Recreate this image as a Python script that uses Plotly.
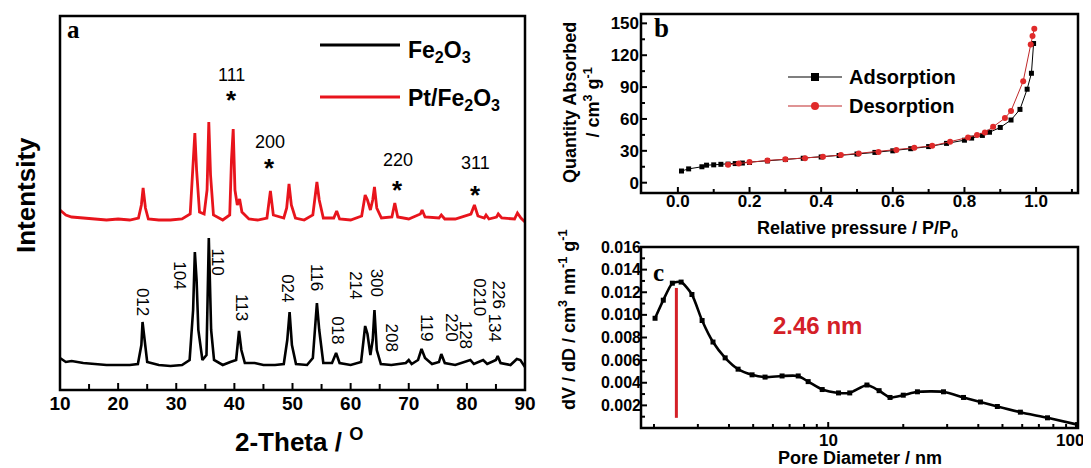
import math
import plotly.graph_objects as go

W, H = 1083, 460   # fits the 1091x468 window after the 8 px page margin
OX, OY = 8, 8      # page body margin offset of the plot div


def px(x):
    return (x - OX) / W


def py(y):
    return 1 - (y - OY) / H


# ---------------- Panel a : XRD ----------------
tt_fe2o3 = [10, 11, 12, 14, 16, 18, 20, 22, 23.4, 24.0, 24.2, 24.6, 25.0, 27, 29, 31,
            32.3, 32.9, 33.2, 33.5, 33.8, 34.5, 35.2, 35.6, 36.0, 36.5, 38, 39.3, 40.3,
            40.8, 41.2, 41.8, 43.5, 45, 47, 48.5, 49.1, 49.5, 49.9, 50.6, 52.5, 53.5,
            54.0, 54.2, 54.6, 55.3, 56.8, 57.5, 58.1, 60, 61.8, 62.5, 62.9, 63.4, 63.8,
            64.1, 64.5, 65.2, 67, 69.5, 70, 70.5, 71.6, 72.2, 72.8, 74, 75.2, 75.6,
            76.2, 78, 80.6, 81.2, 82.8, 83.5, 85.0, 85.3, 85.8, 87.5, 88.6, 89.2, 90]
int_fe2o3 = [32, 28, 29, 27, 26, 25, 25, 25, 26, 45, 68, 50, 28, 25, 24, 25,
             30, 80, 138, 110, 60, 30, 35, 152, 60, 30, 25, 28, 30,
             59, 40, 27, 27, 25, 25, 26, 50, 78, 45, 26, 25, 32,
             75, 87, 60, 27, 27, 37, 27, 25, 28, 64, 56, 35, 50,
             80, 40, 26, 25, 27, 30, 26, 30, 41, 32, 26, 28, 36,
             27, 25, 30, 26, 30, 26, 30, 34, 27, 25, 31, 30, 23]

tt_pt = [10, 11, 12, 14, 16, 18, 20, 22, 23.5, 24.0, 24.3, 24.7, 25.2, 27, 29, 31,
         32.4, 32.9, 33.2, 33.5, 34, 34.8, 35.3, 35.6, 35.9, 36.4, 38, 39.2, 39.5,
         39.8, 40.1, 40.5, 40.9, 41.3, 42.5, 44, 45.6, 46.2, 46.7, 48.5, 49.0, 49.4,
         49.8, 50.5, 52, 53.5, 54.0, 54.2, 54.6, 55.3, 57.1, 57.6, 58.1, 60, 61.9,
         62.5, 62.9, 63.4, 63.8, 64.1, 64.5, 65.3, 67.1, 67.6, 68.1, 70, 72.0, 72.3,
         72.8, 75.2, 75.6, 76.2, 78, 80.7, 81.3, 81.9, 83, 83.3, 83.8, 85.1, 85.4,
         86, 88.2, 88.7, 89.3, 90]
int_pt = [180, 175, 173, 172, 171, 170, 171, 170, 172, 185, 202, 182, 171, 170, 170, 171,
          176, 230, 257, 220, 178, 176, 200, 268, 215, 175, 170, 175, 230,
          261, 200, 185, 191, 178, 171, 170, 172, 199, 175, 172, 182, 206,
          185, 172, 170, 175, 200, 208, 190, 172, 172, 179, 171, 170, 174,
          195, 190, 180, 190, 203, 182, 172, 173, 187, 173, 171, 176, 180,
          173, 172, 175, 171, 171, 176, 185, 174, 172, 175, 171, 173, 176,
          172, 171, 177, 172, 168]

fe2o3_hkl = ["012", "104", "110", "113", "024", "116", "018", "214", "300",
             "208", "119", "220", "128", "0210", "226", "134"]
fe2o3_hkl_pos = [24.3, 30.6, 37.1, 41.3, 49.2, 54.2, 57.8, 60.9, 64.6,
                 67.2, 73.1, 77.4, 79.9, 82.2, 85.6, 84.9]
fe2o3_hkl_lab_y = [88, 115, 128, 82, 102, 112, 60, 105, 107,
                   52, 62, 63, 55, 93, 95, 62]

pt_hkl = ["111", "200", "220", "311"]
pt_hkl_pos = [39.55, 46.1, 68.1, 81.5]
pt_hkl_lab_y = [315, 248, 230, 227]
pt_star_y = [298, 230, 208, 203]

xrd_ticks = [10, 20, 30, 40, 50, 60, 70, 80, 90]
xrd_minor = [15, 25, 35, 45, 55, 65, 75, 85]

# ---------------- Panel b : isotherm ----------------
p_ads = [0.01, 0.03, 0.067, 0.08, 0.1, 0.12, 0.14, 0.16, 0.18, 0.2, 0.25, 0.3, 0.35,
         0.4, 0.45, 0.5, 0.55, 0.6, 0.65, 0.7, 0.75, 0.8, 0.82, 0.85, 0.87, 0.9,
         0.93, 0.955, 0.975, 0.987, 0.993]
q_ads = [11, 13, 15, 16.5, 16.8, 17.3, 17.5, 18, 18.5, 19, 20.5, 21.8, 23,
         24.2, 25.6, 27, 28.5, 30, 32, 34, 37, 40, 42, 44.5, 47.5, 52,
         59, 69, 88, 103, 131]
p_des = [0.14, 0.17, 0.2, 0.25, 0.3, 0.355, 0.405, 0.455, 0.505, 0.56, 0.61, 0.66,
         0.71, 0.76, 0.81, 0.835, 0.857, 0.88, 0.913, 0.93, 0.964, 0.985, 0.99, 0.995]
q_des = [17, 18, 19.4, 21, 22, 23, 24.5, 26, 27.6, 29, 30.7, 32.9,
         34.7, 38.5, 42.6, 45, 47.3, 52.6, 60.8, 67.6, 95.5, 130, 138, 145]
iso_xticks = [0.0, 0.2, 0.4, 0.6, 0.8, 1.0]
iso_xminor = [0.1, 0.3, 0.5, 0.7, 0.9, 1.1]
iso_yticks = [0, 30, 60, 90, 120, 150]
iso_yminor = [15, 45, 75, 105, 135]

# ---------------- Panel c : pore size distribution ----------------
pore_d = [2.02, 2.18, 2.37, 2.57, 2.84, 3.12, 3.45, 3.86, 4.35, 4.95, 5.58, 6.53,
          7.58, 8.31, 9.46, 11.0, 12.2, 14.3, 16.0, 17.7, 20.0, 22.8, 29.0, 34.9,
          40.8, 47.7, 59.0, 75.8, 100]
dvdd = [0.0097, 0.0113, 0.0128, 0.0129, 0.0118, 0.0095, 0.0076, 0.0062, 0.0052,
        0.0047, 0.0045, 0.0046, 0.0046, 0.0041, 0.0034, 0.0031, 0.0031, 0.0038,
        0.0033, 0.0027, 0.0029, 0.0032, 0.0032, 0.0027, 0.0023, 0.0019, 0.0014,
        0.0009, 0.0003]
peak_pore = 2.46
peak_line_y = [0.0009, 0.01238]
psd_yticks = [0.002, 0.004, 0.006, 0.008, 0.010, 0.012, 0.014, 0.016]
psd_yminor = [0.001, 0.003, 0.005, 0.007, 0.009, 0.011, 0.013, 0.015]
psd_xticks = [10, 100]
psd_xminor = [2, 3, 4, 5, 6, 7, 8, 9, 20, 30, 40, 50, 60, 70, 80, 90]

FONT = "Arial, Liberation Sans, sans-serif"
SERIF = "Times New Roman, Liberation Serif, serif"
RED = "#e8141c"

fig = go.Figure()

fig.add_trace(go.Scatter(x=tt_fe2o3, y=int_fe2o3, mode="lines", name="Fe2O3",
                         line=dict(color="black", width=2.6), xaxis="x", yaxis="y"))
fig.add_trace(go.Scatter(x=tt_pt, y=int_pt, mode="lines", name="Pt/Fe2O3",
                         line=dict(color=RED, width=2.8), xaxis="x", yaxis="y"))

fig.add_trace(go.Scatter(x=p_ads, y=q_ads, mode="lines+markers", name="Adsorption",
                         line=dict(color="black", width=1),
                         marker=dict(symbol="square", size=5, color="black"),
                         xaxis="x2", yaxis="y2"))
fig.add_trace(go.Scatter(x=p_des, y=q_des, mode="lines+markers", name="Desorption",
                         line=dict(color="#c0282a", width=1),
                         marker=dict(symbol="circle", size=6, color="#e02a2a"),
                         xaxis="x2", yaxis="y2"))

fig.add_trace(go.Scatter(x=pore_d, y=dvdd, mode="lines+markers", name="PSD",
                         line=dict(color="black", width=2.6, shape="spline", smoothing=0.6),
                         marker=dict(symbol="square", size=5, color="black"),
                         xaxis="x3", yaxis="y3"))
fig.add_trace(go.Scatter(x=[peak_pore, peak_pore], y=peak_line_y, mode="lines",
                         line=dict(color="#d42027", width=3), name="peak",
                         xaxis="x3", yaxis="y3"))

axis_common = dict(showline=False, ticks="", showgrid=False,
                   zeroline=False, automargin=False)

fig.update_layout(
    template="none",
    width=W, height=H, margin=dict(l=0, r=0, t=0, b=0, pad=0), autosize=False,
    paper_bgcolor="white", plot_bgcolor="white", showlegend=False,
    xaxis=dict(domain=[px(60), px(525)], range=[10, 90], anchor="y",
               tickmode="array", tickvals=xrd_ticks,
               tickfont=dict(family=FONT, size=19, color="black", weight="bold"),
               ticklabelstandoff=0, **axis_common),
    yaxis=dict(domain=[py(390), py(16)], range=[0, 374], anchor="x",
               showticklabels=False, **axis_common),
    xaxis2=dict(domain=[px(641), px(1078)], range=[-0.103, 1.117], anchor="y2",
                tickmode="array", tickvals=iso_xticks,
                ticktext=[f"{v:.1f}" for v in iso_xticks],
                tickfont=dict(family=FONT, size=17, color="black", weight="bold"),
                ticklabelstandoff=-4, **axis_common),
    yaxis2=dict(domain=[py(193), py(14)], range=[-9.7, 158.8], anchor="x2",
                tickmode="array", tickvals=iso_yticks,
                tickfont=dict(family=FONT, size=17, color="black", weight="bold"),
                ticklabelstandoff=1, **axis_common),
    xaxis3=dict(domain=[px(641), px(1078)], type="log", range=[0.249, 2.002], anchor="y3",
                showticklabels=False, **axis_common),
    yaxis3=dict(domain=[py(428), py(247)], range=[0, 0.016], anchor="x3",
                tickmode="array", tickvals=psd_yticks,
                ticktext=[f"{v:.3f}" for v in psd_yticks],
                tickfont=dict(family=FONT, size=16, color="black", weight="bold"),
                ticklabelstandoff=-1, **axis_common),
)


def note(x, y, text, size, color="black", family=FONT, bold=True, angle=0,
         xanchor="center", yanchor="middle"):
    f = dict(family=family, size=size, color=color)
    if bold:
        f["weight"] = "bold"
    return dict(x=px(x), y=py(y), xref="paper", yref="paper", text=text, showarrow=False,
                textangle=angle, xanchor=xanchor, yanchor=yanchor, font=f)


ann = []
# Fe2O3 hkl labels (rotated)
for lab, xv, yv in zip(fe2o3_hkl, fe2o3_hkl_pos, fe2o3_hkl_lab_y):
    ann.append(dict(x=xv, y=yv, xref="x", yref="y", text=lab, showarrow=False,
                    textangle=90, xanchor="center", yanchor="middle",
                    font=dict(family=FONT, size=17, color="black")))
# Pt labels with stars
for lab, xv, yl, ys in zip(pt_hkl, pt_hkl_pos, pt_hkl_lab_y, pt_star_y):
    ann.append(dict(x=xv, y=yl, xref="x", yref="y", text=lab, showarrow=False,
                    xanchor="center", yanchor="middle",
                    font=dict(family=FONT, size=18, color="black")))
    ann.append(dict(x=xv, y=ys - 8, xref="x", yref="y", text="*", showarrow=False,
                    xanchor="center", yanchor="middle",
                    font=dict(family=FONT, size=26, color="black", weight="bold")))

# log-axis tick labels of panel c (annotation x on log axes is log10 of the value)
for v in psd_xticks:
    ann.append(dict(x=math.log10(v), y=py(440), xref="x3", yref="paper", text=str(v),
                    showarrow=False, xanchor="center", yanchor="middle",
                    xshift=-8 if v == psd_xticks[-1] else 0,
                    font=dict(family=FONT, size=17, color="black", weight="bold")))

ann += [
    note(26, 195, "Intentsity", 26, angle=-90),
    note(299, 440, "2-Theta / <sup>O</sup>", 26),
    note(581, 103, "Quantity Absorbed<br>/ cm<sup>3</sup> g<sup>-1</sup>", 18, angle=-90),
    note(858, 229, "Relative pressure / P/P<sub>0</sub>", 18),
    note(567, 320, "dV / dD / cm<sup>3</sup> nm<sup>-1</sup> g<sup>-1</sup>", 18, angle=-90),
    note(860, 458, "Pore Diameter / nm", 18),
    note(73, 30, "a", 25, family=SERIF),
    note(661, 28, "b", 27, family=SERIF),
    note(658, 272, "c", 25, family=SERIF),
    note(817, 325, "2.46 nm", 24, color="#d42027"),
    note(406, 51, "Fe<sub>2</sub>O<sub>3</sub>", 23, xanchor="left"),
    note(406, 100, "Pt/Fe<sub>2</sub>O<sub>3</sub>", 23, xanchor="left"),
    note(847, 77, "Adsorption", 20, xanchor="left"),
    note(847, 106, "Desorption", 20, xanchor="left"),
]

frame = dict(color="black", width=2.5)
shapes = [
    dict(type="rect", xref="x domain", yref="y domain", x0=0, x1=1, y0=0, y1=1,
         line=frame, layer="above"),
    dict(type="rect", xref="x2 domain", yref="y2 domain", x0=0, x1=1, y0=0, y1=1,
         line=frame, layer="above"),
    dict(type="rect", xref="x3 domain", yref="y3 domain", x0=0, x1=1, y0=0, y1=1,
         line=frame, layer="above"),
]


def xtick_marks(xaxis, yaxis, vals, length):
    return [dict(type="line", xref=xaxis, yref=f"{yaxis} domain", x0=v, x1=v,
                 ysizemode="pixel", yanchor=0, y0=0, y1=length,
                 line=dict(color="black", width=2), layer="above") for v in vals]


def ytick_marks(xaxis, yaxis, vals, length):
    return [dict(type="line", yref=yaxis, xref=f"{xaxis} domain", y0=v, y1=v,
                 xsizemode="pixel", xanchor=0, x0=0, x1=length,
                 line=dict(color="black", width=2), layer="above") for v in vals]


shapes += xtick_marks("x", "y", xrd_ticks, 7)
shapes += xtick_marks("x", "y", xrd_minor, 6)
shapes += xtick_marks("x2", "y2", iso_xticks, 6)
shapes += xtick_marks("x2", "y2", iso_xminor, 4)
shapes += ytick_marks("x2", "y2", iso_yticks, 6)
shapes += ytick_marks("x2", "y2", iso_yminor, 4)
shapes += xtick_marks("x3", "y3", psd_xticks, 6)
shapes += xtick_marks("x3", "y3", psd_xminor, 4)
shapes += ytick_marks("x3", "y3", psd_yticks, 6)
shapes += ytick_marks("x3", "y3", psd_yminor, 4)

shapes += [
    dict(type="line", xref="paper", yref="paper", x0=px(320), x1=px(400), y0=py(45), y1=py(45),
         line=dict(color="black", width=3)),
    dict(type="line", xref="paper", yref="paper", x0=px(320), x1=px(400), y0=py(97), y1=py(97),
         line=dict(color=RED, width=3)),
    dict(type="line", xref="paper", yref="paper", x0=px(788), x1=px(842), y0=py(77), y1=py(77),
         line=dict(color="black", width=1.2)),
    dict(type="rect", xref="paper", yref="paper", x0=px(811), x1=px(819), y0=py(81), y1=py(73),
         fillcolor="black", line=dict(color="black", width=0)),
    dict(type="line", xref="paper", yref="paper", x0=px(788), x1=px(842), y0=py(106), y1=py(106),
         line=dict(color="#c0282a", width=1.2)),
    dict(type="circle", xref="paper", yref="paper", x0=px(811), x1=px(819), y0=py(110), y1=py(102),
         fillcolor="#e02a2a", line=dict(color="#e02a2a", width=0)),
]

fig.update_layout(annotations=ann, shapes=shapes)
fig.write_html("out.html")
